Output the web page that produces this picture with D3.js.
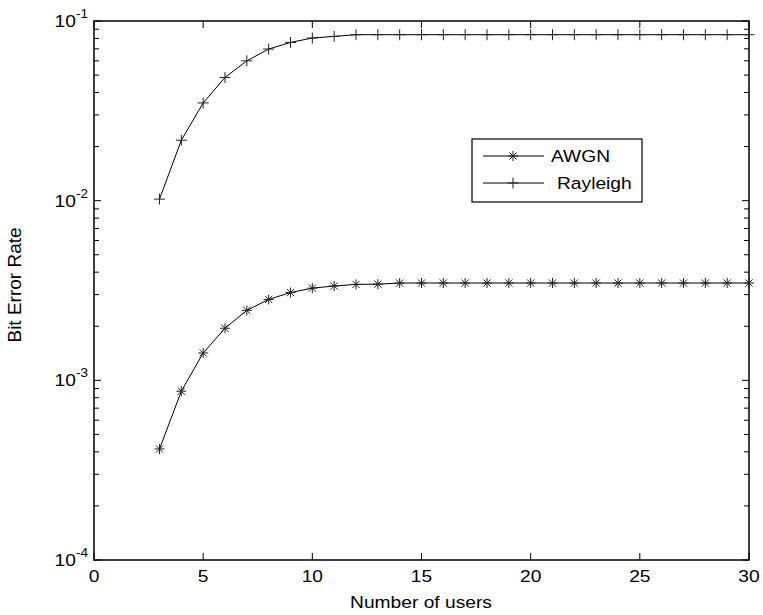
<!DOCTYPE html>
<html><head><meta charset="utf-8">
<script src="https://cdn.jsdelivr.net/npm/d3@7"></script>
<style>body{margin:0;background:#fff}svg{display:block}text{font-family:"Liberation Sans",Arial,Helvetica,sans-serif;fill:#000}</style>
</head><body><svg id="c" width="763" height="615"></svg>
<script>
const users = [3,4,5,6,7,8,9,10,11,12,13,14,15,16,17,18,19,20,21,22,23,24,25,26,27,28,29,30];
const awgn = [4.15e-4,8.7e-4,1.42e-3,1.95e-3,2.45e-3,2.82e-3,3.08e-3,3.26e-3,3.35e-3,3.42e-3,3.43e-3,3.48e-3,3.48e-3,3.48e-3,3.48e-3,3.48e-3,3.48e-3,3.48e-3,3.48e-3,3.48e-3,3.48e-3,3.48e-3,3.48e-3,3.48e-3,3.48e-3,3.48e-3,3.48e-3,3.48e-3];
const rayleigh = [1.02e-2,2.17e-2,3.5e-2,4.85e-2,6.0e-2,6.98e-2,7.6e-2,8.04e-2,8.21e-2,8.39e-2,8.39e-2,8.39e-2,8.39e-2,8.39e-2,8.39e-2,8.39e-2,8.39e-2,8.39e-2,8.39e-2,8.39e-2,8.39e-2,8.39e-2,8.39e-2,8.39e-2,8.39e-2,8.39e-2,8.39e-2,8.39e-2];
const xTicks = [0,5,10,15,20,25,30];
const yExponents = [-4,-3,-2,-1];
const seriesNames = ["AWGN","Rayleigh"];

const svg = d3.select("#c");
const L=94, R=749, T=21, B=560;
const SX = 1.13, FS = 17;
const x = d3.scaleLinear().domain([0,30]).range([L,R]);
const y = d3.scaleLog().domain([1e-4,1e-1]).range([B,T]);

const minor = [];
yExponents.slice(0,-1).forEach(e=>{ [2,3,4,5,6,7,8,9].forEach(m=>minor.push(m*Math.pow(10,e))); });

const g = svg.append("g");
g.selectAll(".xt").data(xTicks).join("line").attr("x1",d=>x(d)).attr("x2",d=>x(d)).attr("y1",B).attr("y2",B-7).attr("stroke","#000");
g.selectAll(".xtt").data(xTicks).join("line").attr("x1",d=>x(d)).attr("x2",d=>x(d)).attr("y1",T).attr("y2",T+7).attr("stroke","#000");
const majors = yExponents.map(e=>Math.pow(10,e));
g.selectAll(".ym").data(majors).join("line").attr("x1",L).attr("x2",L+7).attr("y1",d=>y(d)).attr("y2",d=>y(d)).attr("stroke","#000");
g.selectAll(".ymr").data(majors).join("line").attr("x1",R).attr("x2",R-7).attr("y1",d=>y(d)).attr("y2",d=>y(d)).attr("stroke","#000");
g.selectAll(".yn").data(minor).join("line").attr("x1",L).attr("x2",L+5).attr("y1",d=>y(d)).attr("y2",d=>y(d)).attr("stroke","#000");
g.selectAll(".ynr").data(minor).join("line").attr("x1",R).attr("x2",R-5).attr("y1",d=>y(d)).attr("y2",d=>y(d)).attr("stroke","#000");

svg.append("rect").attr("x",L).attr("y",T).attr("width",R-L).attr("height",B-T).attr("fill","none").attr("stroke","#000").attr("stroke-width",1.5);

svg.selectAll(".xl").data(xTicks).join("text")
  .attr("transform",d=>`translate(${x(d)},582) scale(${SX},1)`)
  .attr("text-anchor","middle").attr("font-size",FS).text(d=>d);
const yl = svg.selectAll(".yl").data(yExponents).join("text")
  .attr("transform",d=>`translate(88,${y(Math.pow(10,d))+6}) scale(${SX},1)`)
  .attr("text-anchor","end").attr("font-size",FS);
yl.append("tspan").text("10");
yl.append("tspan").attr("font-size",12).attr("dy",-9).text(d=>d);

svg.append("text").attr("transform",`translate(421,608) scale(${SX},1)`).attr("text-anchor","middle").attr("font-size",FS).text("Number of users");
svg.append("text").attr("transform",`translate(21,285) rotate(-90)`).attr("text-anchor","middle").attr("font-size",19).text("Bit Error Rate");

const line = d3.line().x(d=>x(d[0])).y(d=>y(d[1]));
const dA = users.map((u,i)=>[u,awgn[i]]);
const dR = users.map((u,i)=>[u,rayleigh[i]]);
svg.append("path").attr("d",line(dA)).attr("fill","none").attr("stroke","#000").attr("stroke-width",1);
svg.append("path").attr("d",line(dR)).attr("fill","none").attr("stroke","#000").attr("stroke-width",1);

function star(sel,cx,cy){
  const s=5, d=3.6;
  const p = `M${cx-s},${cy}L${cx+s},${cy}M${cx},${cy-s}L${cx},${cy+s}M${cx-d},${cy-d}L${cx+d},${cy+d}M${cx-d},${cy+d}L${cx+d},${cy-d}`;
  sel.append("path").attr("d",p).attr("stroke","#222").attr("stroke-width",1).attr("fill","none");
}
function plus(sel,cx,cy){
  const s=5.5;
  sel.append("path").attr("d",`M${cx-s},${cy}L${cx+s},${cy}M${cx},${cy-s}L${cx},${cy+s}`).attr("stroke","#222").attr("stroke-width",1).attr("fill","none");
}
const mg = svg.append("g");
dA.forEach(d=>star(mg,x(d[0]),y(d[1])));
dR.forEach(d=>plus(mg,x(d[0]),y(d[1])));

const lg = svg.append("g");
lg.append("rect").attr("x",472).attr("y",139).attr("width",170).attr("height",63).attr("fill","#fff").attr("stroke","#000").attr("stroke-width",1.2);
const rows=[156,183];
rows.forEach((ry,i)=>{
  lg.append("line").attr("x1",483).attr("x2",544).attr("y1",ry).attr("y2",ry).attr("stroke","#000");
  if(i===0) star(lg,513,ry); else plus(lg,513,ry);
  lg.append("text").attr("transform",`translate(${i===0?551:557},${ry+6}) scale(${SX},1)`).attr("font-size",FS).text(seriesNames[i]);
});
</script></body></html>
